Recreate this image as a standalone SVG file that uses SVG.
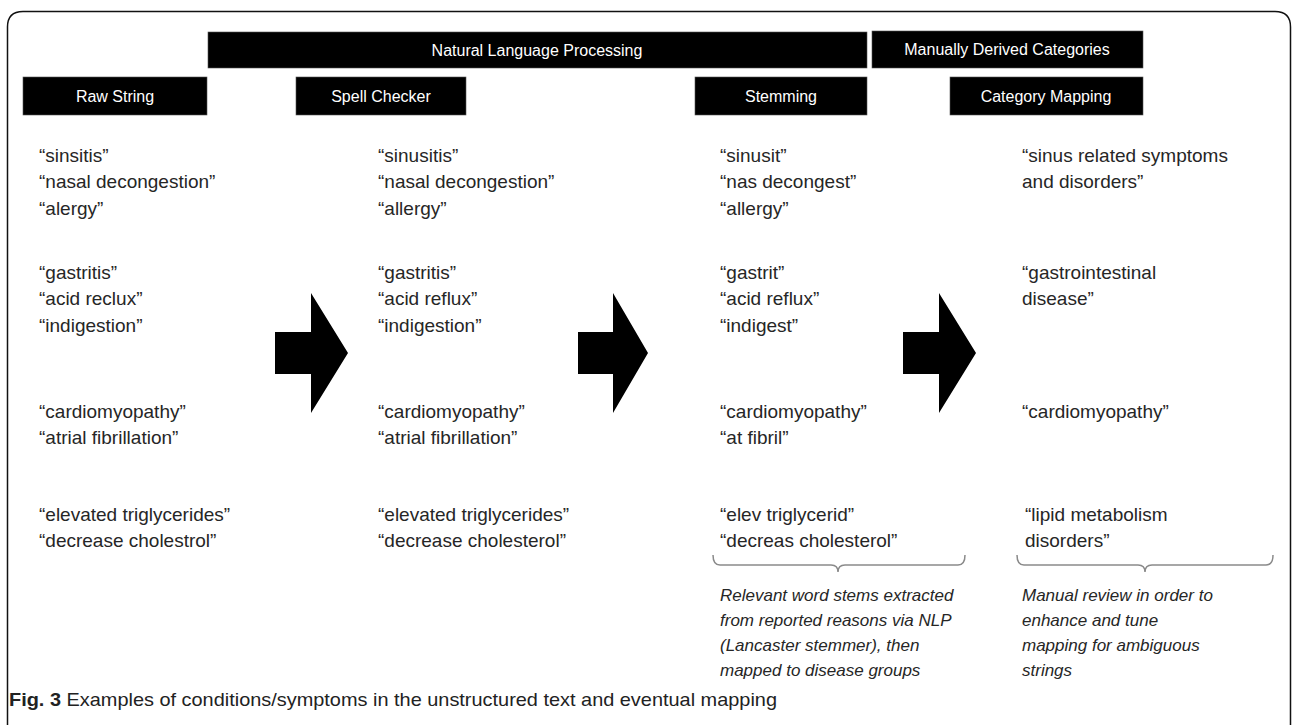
<svg xmlns="http://www.w3.org/2000/svg" width="1292" height="725" viewBox="0 0 1292 725">
<style>
.bar{fill:#000;stroke:#555;stroke-width:0.6}
.hd{font-family:"Liberation Sans",Arial,sans-serif;font-size:16px;fill:#fff;text-anchor:middle}
.tx{font-family:"Liberation Sans",Arial,sans-serif;font-size:19px;fill:#262626}
.it{font-family:"Liberation Sans",Arial,sans-serif;font-size:17px;font-style:italic;fill:#262626}
.arr{fill:#000}
.brk{fill:none;stroke:#8a8a8a;stroke-width:1.5}
.cap{font-family:"Liberation Sans",Arial,sans-serif;font-size:19px;fill:#222}
</style>
<rect width="1292" height="725" fill="#fff"/>
<path d="M7.5,725 V27 Q7.5,11.5 23,11.5 H1275 Q1290.5,11.5 1290.5,27 V725" fill="none" stroke="#111" stroke-width="1.5"/>
<g id="hdr-nlp"><rect class="bar" x="208" y="32" width="659" height="36"/><text class="hd" x="537" y="56">Natural Language Processing</text></g>
<g id="hdr-mdc"><rect class="bar" x="872" y="31" width="271" height="37"/><text class="hd" x="1007" y="55">Manually Derived Categories</text></g>
<g id="col-raw">
<rect class="bar" x="23" y="77" width="184" height="38"/><text class="hd" x="115" y="102">Raw String</text>
<text class="tx" x="39" y="162">“sinsitis”</text>
<text class="tx" x="39" y="188">“nasal decongestion”</text>
<text class="tx" x="39" y="215">“alergy”</text>
<text class="tx" x="39" y="279">“gastritis”</text>
<text class="tx" x="39" y="305">“acid reclux”</text>
<text class="tx" x="39" y="332">“indigestion”</text>
<text class="tx" x="39" y="418">“cardiomyopathy”</text>
<text class="tx" x="39" y="444">“atrial fibrillation”</text>
<text class="tx" x="39" y="521">“elevated triglycerides”</text>
<text class="tx" x="39" y="547">“decrease cholestrol”</text>
</g>
<g id="col-spell">
<rect class="bar" x="296" y="77" width="170" height="38"/><text class="hd" x="381" y="102">Spell Checker</text>
<text class="tx" x="378" y="162">“sinusitis”</text>
<text class="tx" x="378" y="188">“nasal decongestion”</text>
<text class="tx" x="378" y="215">“allergy”</text>
<text class="tx" x="378" y="279">“gastritis”</text>
<text class="tx" x="378" y="305">“acid reflux”</text>
<text class="tx" x="378" y="332">“indigestion”</text>
<text class="tx" x="378" y="418">“cardiomyopathy”</text>
<text class="tx" x="378" y="444">“atrial fibrillation”</text>
<text class="tx" x="378" y="521">“elevated triglycerides”</text>
<text class="tx" x="378" y="547">“decrease cholesterol”</text>
</g>
<g id="col-stem">
<rect class="bar" x="695" y="77" width="172" height="38"/><text class="hd" x="781" y="102">Stemming</text>
<text class="tx" x="720" y="162">“sinusit”</text>
<text class="tx" x="720" y="188">“nas decongest”</text>
<text class="tx" x="720" y="215">“allergy”</text>
<text class="tx" x="720" y="279">“gastrit”</text>
<text class="tx" x="720" y="305">“acid reflux”</text>
<text class="tx" x="720" y="332">“indigest”</text>
<text class="tx" x="720" y="418">“cardiomyopathy”</text>
<text class="tx" x="720" y="444">“at fibril”</text>
<text class="tx" x="720" y="521">“elev triglycerid”</text>
<text class="tx" x="720" y="547">“decreas cholesterol”</text>
<text class="it" x="720" y="601">Relevant word stems extracted</text>
<text class="it" x="720" y="626">from reported reasons via NLP</text>
<text class="it" x="720" y="651">(Lancaster stemmer), then</text>
<text class="it" x="720" y="676">mapped to disease groups</text>
</g>
<g id="col-cat">
<rect class="bar" x="950" y="77" width="193" height="38"/><text class="hd" x="1046" y="102">Category Mapping</text>
<text class="tx" x="1022" y="162">“sinus related symptoms</text>
<text class="tx" x="1022" y="188">and disorders”</text>
<text class="tx" x="1022" y="279">“gastrointestinal</text>
<text class="tx" x="1022" y="305">disease”</text>
<text class="tx" x="1022" y="418">“cardiomyopathy”</text>
<text class="tx" x="1025" y="521">“lipid metabolism</text>
<text class="tx" x="1025" y="547">disorders”</text>
<text class="it" x="1022" y="601">Manual review in order to</text>
<text class="it" x="1022" y="626">enhance and tune</text>
<text class="it" x="1022" y="651">mapping for ambiguous</text>
<text class="it" x="1022" y="676">strings</text>
</g>
<g id="connectors">
<polygon class="arr" points="275,332 311,332 311,293 348,353 311,413 311,374 275,374"/>
<polygon class="arr" points="578,332 613,332 613,293 648,353 613,413 613,374 578,374"/>
<polygon class="arr" points="903,332 939,332 939,293 976,353 939,413 939,374 903,374"/>
<path class="brk" d="M713,555 Q713,565 720,565 H831 Q838,565 838,572 Q838,565 845,565 H958 Q965,565 965,555"/>
<path class="brk" d="M1017,555 Q1017,565 1024,565 H1138 Q1145,565 1145,572 Q1145,565 1152,565 H1266 Q1273,565 1273,555"/>
</g>
<g id="caption"><text class="cap" x="9" y="706" textLength="768" lengthAdjust="spacingAndGlyphs"><tspan font-weight="bold">Fig. 3</tspan> Examples of conditions/symptoms in the unstructured text and eventual mapping</text></g>
</svg>
